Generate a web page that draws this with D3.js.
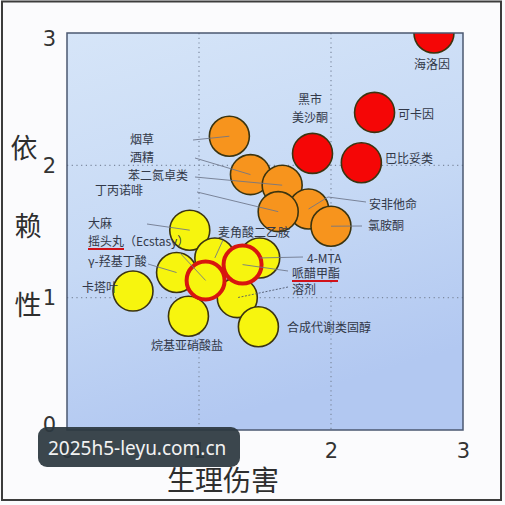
<!DOCTYPE html>
<html>
<head>
<meta charset="utf-8">
<script src="https://cdn.jsdelivr.net/npm/d3@7"></script>
<style>
html, body { margin: 0; padding: 0; background: #fff; }
svg { display: block; }
</style>
</head>
<body>
<div id="chart"></div>
<script>
// drugs, physical harm (x) vs dependence (y)
var drugs = ["海洛因", "可卡因", "黑市美沙酮", "巴比妥类",
  "烟草", "酒精", "苯二氮卓类", "安非他命", "氯胺酮", "丁丙诺啡",
  "大麻", "卡塔叶", "麦角酸二乙胺", "4-MTA", "γ-羟基丁酸", "溶剂",
  "烷基亚硝酸盐", "合成代谢类固醇", "摇头丸", "哌醋甲酯"];
var harm = [2.78, 2.33, 1.86, 2.23,
  1.23, 1.39, 1.63, 1.83, 2.00, 1.60,
  0.93, 0.50, 1.12, 1.46, 0.83, 1.29,
  0.92, 1.45, 1.05, 1.33];
var dependence = [3.00, 2.40, 2.09, 2.02,
  2.22, 1.93, 1.85, 1.67, 1.54, 1.65,
  1.51, 1.05, 1.30, 1.30, 1.19, 1.00,
  0.86, 0.78, 1.13, 1.25];
var level = ["high", "high", "high", "high",
  "mid", "mid", "mid", "mid", "mid", "mid",
  "low", "low", "low", "low", "low", "low",
  "low", "low", "low", "low"];
var circled = ["摇头丸", "哌醋甲酯"];
var underlined = ["摇头丸", "哌醋甲酯"];
var tickValues = [0, 1, 2, 3];

var W = 505, H = 505;
var plot = {left: 67, top: 33, right: 463, bottom: 430};

// where each label sits, and where its leader line starts
var labelSpots = {
  "海洛因": {x: 432, y: 65, anchor: "middle"},
  "可卡因": {x: 398, y: 115},
  "黑市美沙酮": {x: 310, y: 109, anchor: "middle", lines: ["黑市", "美沙酮"]},
  "巴比妥类": {x: 385, y: 159},
  "烟草": {x: 154, y: 140, anchor: "end", from: [193, 140]},
  "酒精": {x: 154, y: 158, anchor: "end", from: [195, 158]},
  "苯二氮卓类": {x: 188, y: 176, anchor: "end", from: [195, 177]},
  "丁丙诺啡": {x: 143, y: 191, anchor: "end", from: [197, 192]},
  "安非他命": {x: 369, y: 205, from: [366, 202], via: [328, 197]},
  "氯胺酮": {x: 368, y: 226, from: [362, 226]},
  "大麻": {x: 88, y: 224, from: [147, 224]},
  "摇头丸": {x: 88, y: 242, text: "摇头丸（Ecstasy）", from: [180, 253], ul: 36},
  "γ-羟基丁酸": {x: 88, y: 262, from: [148, 264]},
  "卡塔叶": {x: 82, y: 288},
  "麦角酸二乙胺": {x: 218, y: 233, from: [223, 240]},
  "4-MTA": {x: 307, y: 259, from: [303, 257]},
  "哌醋甲酯": {x: 292, y: 274, from: [288, 271], ul: 46},
  "溶剂": {x: 292, y: 290, from: [288, 287], dashed: true},
  "烷基亚硝酸盐": {x: 187, y: 346, anchor: "middle"},
  "合成代谢类固醇": {x: 287, y: 328}
};

var fills = {high: "#f50606", mid: "#f7941d", low: "#f7f50e"};

var svg = d3.select("#chart").append("svg")
  .attr("width", W).attr("height", H);

var defs = svg.append("defs");
var grad = defs.append("linearGradient").attr("id", "bg")
  .attr("x1", 0).attr("y1", 0).attr("x2", 0.3).attr("y2", 1);
grad.append("stop").attr("offset", "0%").attr("stop-color", "#d6e5f8");
grad.append("stop").attr("offset", "55%").attr("stop-color", "#c6d9f5");
grad.append("stop").attr("offset", "100%").attr("stop-color", "#b2c8f1");
defs.append("clipPath").attr("id", "plotclip").append("rect")
  .attr("x", plot.left).attr("y", plot.top)
  .attr("width", plot.right - plot.left).attr("height", plot.bottom - plot.top);

// page + frame
svg.append("rect").attr("x", 0).attr("y", 0).attr("width", W).attr("height", H)
  .attr("fill", "#fbfbfd");
svg.append("rect").attr("x", 2).attr("y", 1.5).attr("width", 499).attr("height", 498.5)
  .attr("fill", "none").attr("stroke", "#3c3c3c").attr("stroke-width", 2);

var x = d3.scaleLinear().domain([0, 3]).range([plot.left, plot.right]);
var y = d3.scaleLinear().domain([0, 3]).range([plot.bottom, plot.top]);

svg.append("rect")
  .attr("x", plot.left).attr("y", plot.top)
  .attr("width", plot.right - plot.left).attr("height", plot.bottom - plot.top)
  .attr("fill", "url(#bg)");

// dotted grid at 1 and 2
var grid = svg.append("g").attr("stroke", "#7d8aa0").attr("stroke-width", 1.2)
  .attr("stroke-dasharray", "1.2,3.5");
grid.selectAll(".gx").data([1, 2]).enter().append("line")
  .attr("x1", d => x(d)).attr("x2", d => x(d))
  .attr("y1", plot.top).attr("y2", plot.bottom);
grid.selectAll(".gy").data([1, 2]).enter().append("line")
  .attr("y1", d => y(d)).attr("y2", d => y(d))
  .attr("x1", plot.left).attr("x2", plot.right);

// axes
var yAxis = svg.append("g").attr("transform", `translate(${plot.left},0)`)
  .call(d3.axisLeft(y).tickValues(tickValues).tickSize(0).tickPadding(11).tickFormat(d3.format("d")));
var xAxis = svg.append("g").attr("transform", `translate(0,${plot.bottom})`)
  .call(d3.axisBottom(x).tickValues(tickValues).tickSize(0).tickPadding(13).tickFormat(d3.format("d")));
[yAxis, xAxis].forEach(function(a) {
  a.select(".domain").remove();
  a.selectAll("text").attr("font-family", "DejaVu Sans, sans-serif")
    .attr("font-size", 21).attr("fill", "#333");
});
yAxis.selectAll(".tick text").attr("transform", d => d === 3 ? "translate(0,6)" : d === 0 ? "translate(0,-5)" : null);

// axis titles
var cjk = "'Noto Sans CJK SC', 'Noto Sans', sans-serif";
svg.append("g").selectAll("text")
  .data([["依", 24, 148], ["赖", 28, 226], ["性", 28, 305]])
  .enter().append("text")
  .attr("x", d => d[1]).attr("y", d => d[2]).attr("dy", "0.36em")
  .attr("text-anchor", "middle").attr("font-family", cjk)
  .attr("font-size", 27).attr("fill", "#2e2e2e")
  .text(d => d[0]);
svg.append("text").attr("x", 223).attr("y", 481).attr("dy", "0.36em")
  .attr("text-anchor", "middle").attr("font-family", cjk)
  .attr("font-size", 28).attr("fill", "#2e2e2e").text("生理伤害");

// bubbles
var rows = drugs.map(function(name, i) {
  return {name: name, harm: harm[i], dep: dependence[i], level: level[i],
    ring: circled.indexOf(name) >= 0};
});
var order = rows.filter(d => !d.ring).concat(rows.filter(d => d.ring));

svg.append("g").attr("clip-path", "url(#plotclip)")
  .selectAll("circle").data(order).enter().append("circle")
  .attr("cx", d => x(d.harm)).attr("cy", d => y(d.dep))
  .attr("r", d => d.ring ? 19 : 20)
  .attr("fill", d => fills[d.level])
  .attr("stroke", d => d.ring ? "#d8150f" : "#3b3410")
  .attr("stroke-width", d => d.ring ? 4 : 1.6);

svg.append("rect")
  .attr("x", plot.left).attr("y", plot.top)
  .attr("width", plot.right - plot.left).attr("height", plot.bottom - plot.top)
  .attr("fill", "none").attr("stroke", "#4b5870").attr("stroke-width", 1.5);

// leader lines
var leaders = svg.append("g").attr("fill", "none");
rows.forEach(function(d) {
  var s = labelSpots[d.name];
  if (!s || !s.from) return;
  var pts = [s.from];
  if (s.via) pts.push(s.via);
  pts.push([x(d.harm), y(d.dep)]);
  leaders.append("path")
    .attr("d", d3.line()(pts))
    .attr("stroke", s.dashed ? "#4a5368" : "#6c7488")
    .attr("stroke-opacity", 0.85)
    .attr("stroke-width", 1)
    .attr("stroke-dasharray", s.dashed ? "2,1.5" : null);
});

// labels
var labels = svg.append("g").attr("font-family", cjk).attr("font-size", 12)
  .attr("fill", "#323848");
rows.forEach(function(d) {
  var s = labelSpots[d.name];
  var t = labels.append("text")
    .attr("x", s.x).attr("y", s.y).attr("dy", "0.36em")
    .attr("text-anchor", s.anchor || "start");
  if (s.lines) {
    t.attr("y", s.y - 9);
    t.selectAll("tspan").data(s.lines).enter().append("tspan")
      .attr("x", s.x).attr("dy", (l, j) => j === 0 ? "0.36em" : "1.45em")
      .text(l => l);
  } else {
    t.text(s.text || d.name);
  }
  if (underlined.indexOf(d.name) >= 0) {
    labels.append("line")
      .attr("x1", s.x).attr("x2", s.x + s.ul)
      .attr("y1", s.y + 7).attr("y2", s.y + 7)
      .attr("stroke", "#d0121a").attr("stroke-width", 1.8);
  }
});

// watermark
var wm = svg.append("g");
wm.append("rect").attr("x", 38).attr("y", 427).attr("width", 202).attr("height", 40)
  .attr("rx", 9).attr("fill", "#2c383f").attr("fill-opacity", 0.93);
wm.append("text").attr("x", 48).attr("y", 455)
  .attr("font-family", "'Noto Sans', sans-serif").attr("font-size", 19)
  .attr("fill", "#f2f2f2").text("2025h5-leyu.com.cn");
</script>
</body>
</html>
